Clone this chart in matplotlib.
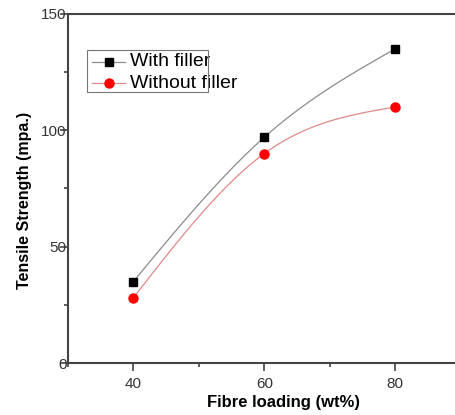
import numpy as np
import matplotlib
matplotlib.use("Agg")
import matplotlib.pyplot as plt
from matplotlib.patches import Rectangle
from matplotlib.ticker import MultipleLocator

plt.rcParams["font.family"] = ["Liberation Sans", "DejaVu Sans"]

fibre_loading = [40, 60, 80]
with_filler = [35, 97, 135]
without_filler = [28, 90, 110]


def natural_spline(x, y, n=60):
    # natural cubic spline through the points (connecting curve only)
    x = np.asarray(x, float)
    y = np.asarray(y, float)
    h = np.diff(x)
    k = len(x)
    A = np.zeros((k, k))
    b = np.zeros(k)
    A[0, 0] = A[-1, -1] = 1.0
    for i in range(1, k - 1):
        A[i, i - 1] = h[i - 1]
        A[i, i] = 2 * (h[i - 1] + h[i])
        A[i, i + 1] = h[i]
        b[i] = 6 * ((y[i + 1] - y[i]) / h[i] - (y[i] - y[i - 1]) / h[i - 1])
    M = np.linalg.solve(A, b)
    xs_all, ys_all = [], []
    for i in range(k - 1):
        t = np.linspace(x[i], x[i + 1], n)
        a = x[i + 1] - t
        c = t - x[i]
        s = (M[i] * a ** 3 + M[i + 1] * c ** 3) / (6 * h[i]) \
            + (y[i] / h[i] - M[i] * h[i] / 6) * a \
            + (y[i + 1] / h[i] - M[i + 1] * h[i] / 6) * c
        xs_all.append(t)
        ys_all.append(s)
    return np.concatenate(xs_all), np.concatenate(ys_all)


fig = plt.figure(figsize=(4.56, 4.15), dpi=100)
ax = fig.add_axes([0.149, 0.1253, 0.861, 0.841])

grey_line = "#8c8c8c"
red_line = "#e08a8a"

xs, ys = natural_spline(fibre_loading, with_filler)
ax.plot(xs, ys, color=grey_line, lw=0.9)
xs, ys = natural_spline(fibre_loading, without_filler)
ax.plot(xs, ys, color=red_line, lw=0.9)
ax.plot(fibre_loading, with_filler, "s", color="black", ms=5.5, ls="none")
ax.plot(fibre_loading, without_filler, "o", color="red", ms=6.5, ls="none")

# legend drawn by hand in axes coordinates (text runs past the frame)
tr = ax.transAxes
ax.add_patch(Rectangle((0.048, 0.777), 0.309, 0.120, transform=tr, fill=False,
                       edgecolor="#777777", lw=0.8, zorder=5))
rows = [(0.863, grey_line, "s", "black", 5.5, "With filler"),
        (0.801, red_line, "o", "red", 6.5, "Without filler")]
for yy, lc, mk, mc, ms, label in rows:
    ax.plot([0.061, 0.145], [yy, yy], color=lc, lw=0.9, transform=tr, clip_on=False)
    ax.plot([0.104], [yy], mk, color=mc, ms=ms, transform=tr, clip_on=False)
    ax.text(0.158, yy, label, transform=tr, fontsize=14, va="center", ha="left")

ax.set_xlim(30, 90)
ax.set_ylim(0, 150)
ax.xaxis.set_minor_locator(MultipleLocator(10))
ax.yaxis.set_major_locator(MultipleLocator(50))
ax.yaxis.set_minor_locator(MultipleLocator(25))
ax.set_xticks(fibre_loading)

for side in ["left", "bottom", "top"]:
    ax.spines[side].set_color("#444444")
    ax.spines[side].set_linewidth(1.5)
ax.spines["right"].set_visible(False)

ax.tick_params(which="major", length=6, width=1.2, color="#444444", labelsize=11,
               labelcolor="#333333")
ax.tick_params(which="minor", length=3, width=1.2, color="#444444")
ax.tick_params(axis="y", pad=-5)
ax.tick_params(axis="x", pad=4)

ax.set_xlabel("Fibre loading (wt%)", fontsize=12, fontweight="bold")
ax.xaxis.set_label_coords(0.548, -0.093)
ax.set_ylabel("Tensile Strength (mpa.)", fontsize=11.5, fontweight="bold")
ax.yaxis.set_label_coords(-0.092, 0.467)

fig.savefig("out.png", dpi=100)
